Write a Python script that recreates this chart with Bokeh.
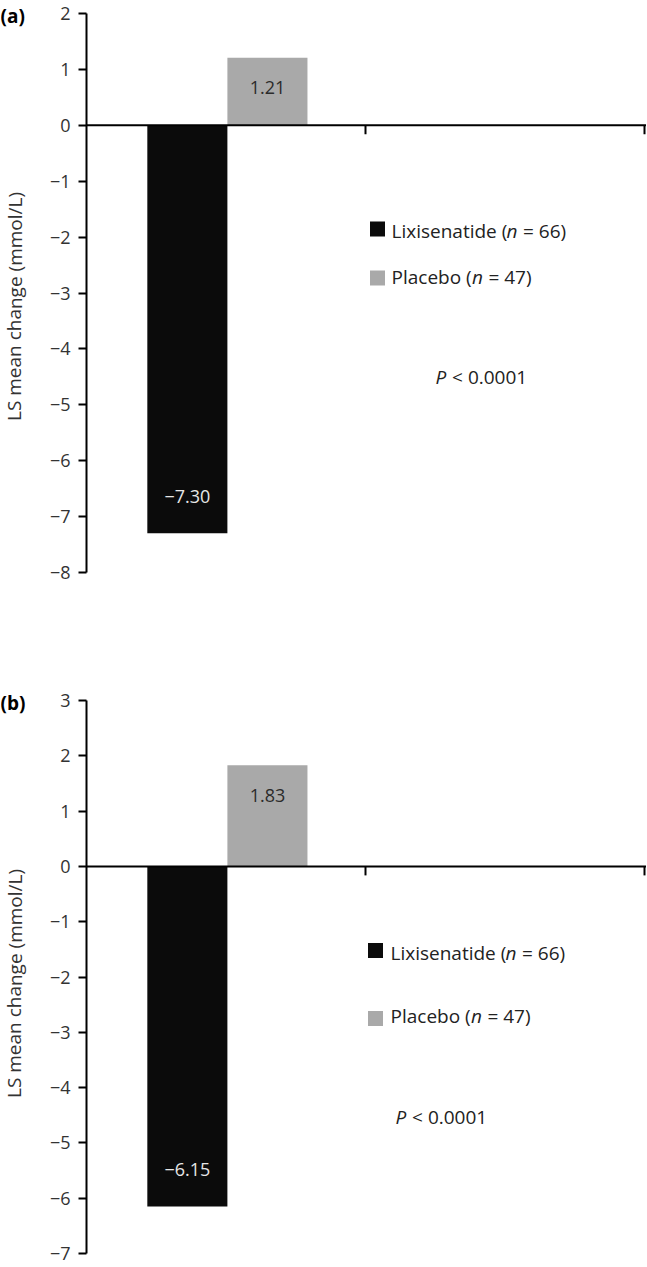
from bokeh.plotting import figure
from bokeh.models import Span, FixedTicker, CustomJSTickFormatter, Range1d
from bokeh.layouts import column, row
from bokeh.embed import file_html
from bokeh.resources import INLINE
from bokeh.core.properties import value

# ---------------- data ----------------
groups = ["Lixisenatide", "Placebo"]
group_n = [66, 47]
bar_colors = ["#0b0b0b", "#a9a9a9"]
label_colors = ["#e6e6e6", "#2b2b2b"]
change_a = [-7.30, 1.21]
change_b = [-6.15, 1.83]
ticks_a = [-8, -7, -6, -5, -4, -3, -2, -1, 0, 1, 2]
ticks_b = [-7, -6, -5, -4, -3, -2, -1, 0, 1, 2, 3]
panel_tags = ["(a)", "(b)"]
p_value_text = "< 0.0001"
y_title = "LS mean change (mmol/L)"
x_slots = 2

FONT = value("Open Sans")
LEFT_W = 40        # width of the side strip holding the tag and y title
MAIN_W = 606
AXIS_X = 86        # x pixel of the y axis
PX_X = 279.0       # px per x unit
BAR_W = 0.287
GROUP_C = 0.505
TXT = "#222222"
BASE_SHIFT = 7     # px: lift of baseline-anchored texts


def minus(s):
    return s.replace("-", "\u2212")


def make_panel(tag, vals, ticks, fig_top, fig_h, top_tick_px, ppu, leg, title_c):
    y_top = ticks[-1] + (top_tick_px - fig_top) / ppu
    y_bot = y_top - fig_h / ppu
    x_end = (LEFT_W + MAIN_W - AXIS_X) / PX_X
    yr = Range1d(y_bot, y_top)

    def ux(px):
        return (px - AXIS_X) / PX_X

    def vy(py):
        return y_top - (py - fig_top) / ppu

    p = figure(width=MAIN_W, height=fig_h, x_range=(0, x_end), y_range=yr,
               x_axis_location=None, y_axis_location="left",
               output_backend="svg", toolbar_location=None,
               min_border_left=AXIS_X - LEFT_W, min_border_right=0,
               min_border_top=0, min_border_bottom=0)
    p.outline_line_color = None
    p.grid.visible = False
    p.background_fill_color = "white"
    p.border_fill_color = "white"

    ax = p.yaxis[0]
    ax.ticker = FixedTicker(ticks=ticks)
    ax.bounds = (ticks[0], ticks[-1])
    ax.formatter = CustomJSTickFormatter(code="return String(tick).replace('-', '\\u2212');")
    ax.axis_line_width = 2
    ax.axis_line_color = "black"
    ax.major_tick_line_width = 2
    ax.major_tick_line_color = "black"
    ax.major_tick_out = 8
    ax.major_tick_in = 0
    ax.minor_tick_out = 0
    ax.minor_tick_in = 0
    ax.major_label_standoff = 8
    ax.major_label_text_font = "Open Sans"
    ax.major_label_text_font_size = "18px"
    ax.major_label_text_color = "#333333"

    # bars
    n = len(groups)
    xs = [GROUP_C + (i - (n - 1) / 2) * BAR_W for i in range(n)]
    p.vbar(x=xs, top=vals, bottom=0, width=BAR_W, fill_color=bar_colors,
           line_color=None)

    # zero line (x axis) and its ticks at slot boundaries
    p.add_layout(Span(location=0, dimension="width", line_color="black", line_width=2))
    bx = list(range(1, x_slots + 1))
    p.segment(x0=bx, y0=[0] * len(bx), x1=bx, y1=[-9 / ppu] * len(bx),
              line_color="black", line_width=2)

    # value labels
    offs = [30 if v > 0 else -37 for v in vals]
    p.text(x=xs, y=vals, text=[minus(f"{v:.2f}") for v in vals], y_offset=offs,
           text_align="center", text_baseline="middle", text_color=label_colors,
           text_font=FONT, text_font_size=value("18px"))

    # legend (manual so that n can be italic)
    sq_x, sq_ys, tx, tys, px_, py_ = leg
    p.scatter(x=[ux(sq_x)] * n, y=[vy(s) for s in sq_ys], marker="square", size=15,
              fill_color=bar_colors, line_color=None)
    first_w = [115.0, 80.4]
    ly = [vy(t - BASE_SHIFT) for t in tys]
    p.text(x=[ux(tx)] * n, y=ly, text=[f"{g} (" for g in groups],
           text_align="left", text_baseline="alphabetic", text_color=TXT,
           text_font=FONT, text_font_size=value("19px"))
    p.text(x=[ux(tx + w) for w in first_w], y=ly, text=["n"] * n,
           text_align="left", text_baseline="alphabetic", text_color=TXT,
           text_font=FONT, text_font_size=value("19px"), text_font_style="italic")
    p.text(x=[ux(tx + w + 11.5 + 5.0) for w in first_w], y=ly,
           text=[f"= {k})" for k in group_n],
           text_align="left", text_baseline="alphabetic", text_color=TXT,
           text_font=FONT, text_font_size=value("19px"))

    # P value
    pyv = vy(py_ - BASE_SHIFT)
    p.text(x=[ux(px_)], y=[pyv], text=["P"], text_align="left",
           text_baseline="alphabetic", text_color=TXT, text_font=FONT,
           text_font_size=value("19px"), text_font_style="italic")
    p.text(x=[ux(px_ + 16.6)], y=[pyv], text=[p_value_text], text_align="left",
           text_baseline="alphabetic", text_color=TXT, text_font=FONT,
           text_font_size=value("19px"))

    # side strip: panel tag and y title
    s = figure(width=LEFT_W, height=fig_h, x_range=(0, LEFT_W), y_range=yr,
               x_axis_location=None, y_axis_location=None,
               output_backend="svg", toolbar_location=None, min_border=0)
    s.outline_line_color = None
    s.grid.visible = False
    s.background_fill_color = "white"
    s.border_fill_color = "white"
    s.text(x=[0], y=[vy(top_tick_px + 2)], text=[tag], text_align="left",
           text_baseline="middle", text_color="black", text_font=FONT,
           text_font_size=value("19px"), text_font_style="bold")
    s.text(x=[14], y=[vy(title_c)], text=[y_title], angle=1.5707963,
           text_align="center", text_baseline="middle", text_color="#333333",
           text_font=FONT, text_font_size=value("19px"))
    return row(s, p, spacing=0)


ra = make_panel(panel_tags[0], change_a, ticks_a, 0, 640, 13, 55.9,
                (377, [228.5, 277.5], 391, [237, 283], 435, 383), 306)
rb = make_panel(panel_tags[1], change_b, ticks_b, 640, 627, 700, 55.3,
                (375, [950, 1018], 390, [959, 1022], 395, 1123), 983)

layout = column(ra, rb, spacing=0)
open("out.html", "w").write(file_html(layout, INLINE))
